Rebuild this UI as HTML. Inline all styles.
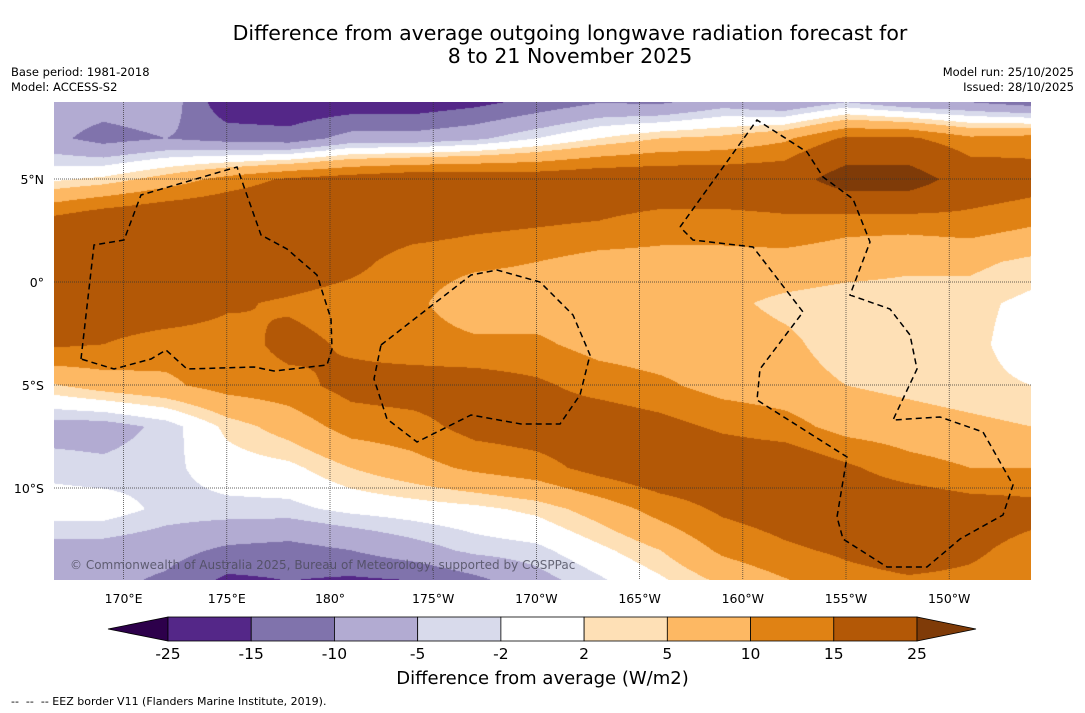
<!DOCTYPE html>
<html><head><meta charset="utf-8">
<style>
body{margin:0;background:#fff;font-family:"DejaVu Sans","Liberation Sans",sans-serif;}
#wrap{position:relative;width:1085px;height:713px;overflow:hidden;background:#fff;}
.t{position:absolute;white-space:nowrap;color:#000;}
</style></head>
<body>
<div id="wrap">
<div class="t" style="left:0;width:1140px;top:22px;text-align:center;font-size:20.5px;line-height:23px;">Difference from average outgoing longwave radiation forecast for<br>8 to 21 November 2025</div>
<div class="t" style="left:11px;top:65px;font-size:11.5px;line-height:15px;">Base period: 1981-2018<br>Model: ACCESS-S2</div>
<div class="t" style="right:11px;top:65px;font-size:11.5px;line-height:15px;text-align:right;">Model run: 25/10/2025<br>Issued: 28/10/2025</div>
<canvas id="map" width="977" height="478" style="position:absolute;left:54px;top:102px;"></canvas>
<svg id="ov" width="1085" height="713" style="position:absolute;left:0;top:0;"></svg>
<div class="t" style="left:70px;top:558px;font-size:12px;color:#4a4a5a;opacity:0.8;">© Commonwealth of Australia 2025, Bureau of Meteorology, supported by COSPPac</div>
<div class="t" style="left:0;width:1085px;text-align:center;top:668px;font-size:18px;">Difference from average (W/m2)</div>
<div class="t" style="left:11px;top:695px;font-size:11px;">--&nbsp; --&nbsp; -- EEZ border V11 (Flanders Marine Institute, 2019).</div>
</div>
<script>
const gridLons=[166,169,172,175,178,181,184,187,190,193,196,199,202,205,208,211,214];
const gridLats=[9,7,5,3,1,-1,-3,-5,-7,-9,-11,-13,-15];
const row9=[-7,-7,-6,-20,-20,-20,-20,-18,-15,-12,-13,-9,-12,-8,-12,-13,-16];
const row7=[-8,-12,-10,-12,-13,-8,-8,-6,-2,2,5,6,9,16,16,11,12];
const row5=[1,3,7,12,16,18,20,20,19,20,20,20,20,30,30,20,18];
const row3=[16,20,22,22,22,20,19,17,16,15,13,13,14,12,12,13,11];
const row1=[20,22,22,22,20,17,12,11,10,8,8,8,8,7,6,6,4];
const rowS1=[20,20,20,16,14,12,11,7,7,7,7,6,4,3,3,3,1];
const rowS3=[16,15,12,12,17,14,12,11,11,8,7,7,6,3,3,3,0];
const rowS5=[4,7,9,12,13,17,18,18,16,13,11,8,7,5,4,3,2];
const rowS7=[-7,-7,-4,3,7,12,13,17,18,19,17,14,12,8,7,6,5];
const rowS9=[-3,-4,-3,0,1,5,8,11,13,17,20,20,20,16,12,10,10];
const rowS11=[0,0,-3,-3,-3,-1,0,1,3,7,12,16,18,20,20,18,17];
const rowS13=[-7,-7,-8,-11,-12,-10,-7,-4,-3,1,5,11,14,16,18,16,13];
const rowS15=[-8,-9,-12,-18,-16,-18,-18,-14,-8,-4,0,4,8,12,13,13,12];
const levels=[-25,-15,-10,-5,-2,2,5,10,15,25];
const levelLabels=["-25","-15","-10","-5","-2","2","5","10","15","25"];
const bandColors=["#2d004b","#542788","#8073ac","#b2abd2","#d8daeb","#ffffff","#fee0b6","#fdb863","#e08214","#b35806","#7f3b08"];
const lonTicks=[170,175,180,185,190,195,200,205,210];
const lonTickLabels=["170°E","175°E","180°","175°W","170°W","165°W","160°W","155°W","150°W"];
const latTicks=[5,0,-5,-10];
const latTickLabels=["5°N","0°","5°S","10°S"];

const rows=[row9,row7,row5,row3,row1,rowS1,rowS3,rowS5,rowS7,rowS9,rowS11,rowS13,rowS15];
const xOf=lon=>330+(lon-180)*20.64;
const yOf=lat=>282-lat*20.6;
const lonOf=x=>180+(x-330)/20.64;
const latOf=y=>(282-y)/20.6;
function rgb(h){return [parseInt(h.slice(1,3),16),parseInt(h.slice(3,5),16),parseInt(h.slice(5,7),16)];}
const rgbs=bandColors.map(rgb);
function colorIdx(v){let i=0;while(i<levels.length&&v>=levels[i])i++;return i;}
function valAt(lon,lat){
  let fi=(lon-gridLons[0])/(gridLons[1]-gridLons[0]);
  let fj=(gridLats[0]-lat)/(gridLats[0]-gridLats[1]);
  fi=Math.max(0,Math.min(gridLons.length-1.0001,fi));
  fj=Math.max(0,Math.min(gridLats.length-1.0001,fj));
  const i=Math.floor(fi),j=Math.floor(fj),a=fi-i,b=fj-j;
  return rows[j][i]*(1-a)*(1-b)+rows[j][i+1]*a*(1-b)+rows[j+1][i]*(1-a)*b+rows[j+1][i+1]*a*b;
}
const cv=document.getElementById('map');const ctx=cv.getContext('2d');
const img=ctx.createImageData(977,478);
for(let py=0;py<478;py++){for(let px=0;px<977;px++){
  const v=valAt(lonOf(54+px),latOf(102+py));const c=rgbs[colorIdx(v)];
  const k=(py*977+px)*4;img.data[k]=c[0];img.data[k+1]=c[1];img.data[k+2]=c[2];img.data[k+3]=255;}}
ctx.putImageData(img,0,0);

const NS="http://www.w3.org/2000/svg";const svg=document.getElementById('ov');
function mk(tag,attrs){const e=document.createElementNS(NS,tag);for(const k in attrs)e.setAttribute(k,attrs[k]);svg.appendChild(e);return e;}
const FF='DejaVu Sans, Liberation Sans, sans-serif';
lonTicks.forEach((lon,i)=>{
  const x=xOf(lon);
  const g=mk('line',{x1:x,x2:x,y1:102,y2:580,stroke:'#333','stroke-width':0.7,'stroke-dasharray':'1,1'});
  
  
  const t=mk('text',{x:x,y:603,'font-size':12.5,'text-anchor':'middle','font-family':FF});
  t.textContent=lonTickLabels[i];
  
  
});
latTicks.forEach((lat,i)=>{
  const y=yOf(lat);
  const g=mk('line',{x1:54,x2:1031,y1:y,y2:y,stroke:'#333','stroke-width':0.7,'stroke-dasharray':'1,1'});
  
  
  const t=mk('text',{x:44,y:y+5,'font-size':12.5,'text-anchor':'end','font-family':FF});
  t.textContent=latTickLabels[i];
  
  
});
const eez=[
 [[81,359],[94,245],[124,240],[141,195],[237,167],[261,235],[287,249],[317,275],[331,319],[332,349],[327,365],[274,371],[254,367],[187,369],[166,350],[151,359],[114,369],[81,359]],
 [[381,345],[471,275],[497,270],[540,282],[573,315],[590,355],[580,395],[560,424],[521,424],[471,415],[417,442],[387,419],[374,379],[381,345]],
 [[680,227],[757,120],[807,152],[823,177],[853,199],[870,242],[850,295],[890,309],[910,335],[917,369],[893,420],[940,417],[983,432],[1013,485],[1003,515],[960,539],[927,567],[887,567],[843,539],[837,517],[847,457],[757,400],[760,369],[803,312],[753,247],[693,240],[680,227]]
];
eez.forEach(p=>{
  const e=mk('polyline',{points:p.map(q=>q.join(',')).join(' '),fill:'none',stroke:'#000','stroke-width':1.5,'stroke-dasharray':'6,4'});
  
  
});
const cbL=168,cbW=(917-168)/9,cbY=617,cbH=24;
const tl=mk('polygon',{points:`${cbL},${cbY} ${cbL},${cbY+cbH} 108,${cbY+cbH/2}`,fill:bandColors[0],stroke:'#000','stroke-width':0.8});


for(let i=0;i<9;i++){
  const r=mk('rect',{x:cbL+i*cbW,y:cbY,width:cbW,height:cbH,fill:bandColors[i+1],stroke:'#000','stroke-width':0.8});
  
  
}
const tr=mk('polygon',{points:`917,${cbY} 917,${cbY+cbH} 976,${cbY+cbH/2}`,fill:bandColors[10],stroke:'#000','stroke-width':0.8});


levels.forEach((lv,i)=>{
  const t=mk('text',{x:cbL+i*cbW,y:659,'font-size':15.5,'text-anchor':'middle','font-family':FF});
  t.textContent=levelLabels[i];
  
  
});
</script>
</body></html>
